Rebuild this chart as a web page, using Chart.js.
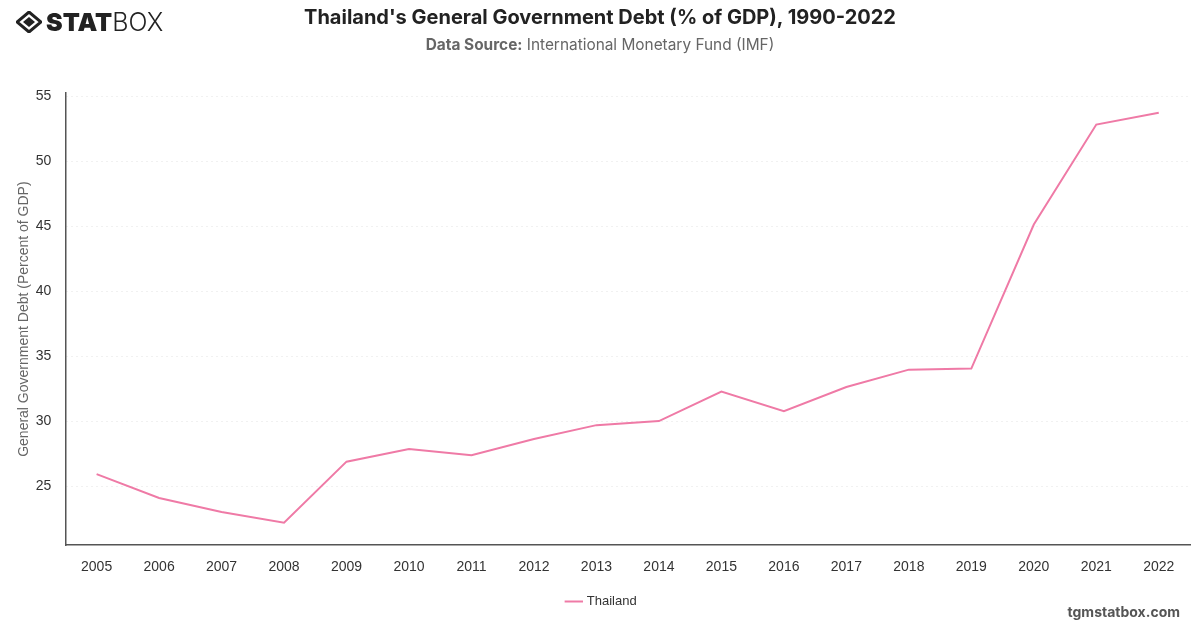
<!DOCTYPE html>
<html>
<head>
<meta charset="utf-8">
<script src="https://cdn.jsdelivr.net/npm/chart.js@4"></script>
<style>
  html, body { margin: 0; padding: 0; background: #fff; }
  body { width: 1200px; height: 628px; position: relative; overflow: hidden; font-family: Inter, "Noto Sans", "DejaVu Sans", sans-serif; }
  #wrap { position: absolute; left: 0; top: 0; width: 1200px; height: 628px; }
  #title { position: absolute; left: 0; width: 1200px; top: 5px; text-align: center; font-size: 20px; font-weight: 700; color: #222; }
  #sub { position: absolute; left: 0; width: 1200px; top: 35px; text-align: center; font-size: 15.4px; color: #666; }
  #sub b { font-weight: 700; }
  #logo { position: absolute; left: 16px; top: 8px; height: 28px; display: flex; align-items: center; }
  #logo .t1 { font-size: 25px; font-weight: 900; color: #222; margin-left: 4px; }
  #logo .t2 { font-size: 25px; font-weight: 300; color: #222; }
  #foot { position: absolute; right: 20px; top: 603px; font-size: 14px; font-weight: 700; color: #555; }
</style>
</head>
<body>
<div id="wrap"><canvas id="c" width="1200" height="628"></canvas></div>
<div id="logo">
  <svg width="26" height="22" viewBox="0 0 26 22">
    <path d="M13 1 L25 11 L13 21 L1 11 Z" fill="none" stroke="#222" stroke-width="3"/>
    <path d="M13 6 L19 11 L13 16 L7 11 Z" fill="#222"/>
  </svg>
  <span class="t1">STAT</span><span class="t2">BOX</span>
</div>
<div id="title">Thailand's General Government Debt (% of GDP), 1990-2022</div>
<div id="sub"><b>Data Source:</b> International Monetary Fund (IMF)</div>
<div id="foot">tgmstatbox.com</div>
<script>
const years = ["2005","2006","2007","2008","2009","2010","2011","2012","2013","2014","2015","2016","2017","2018","2019","2020","2021","2022"];
const thailandDebt = [25.92, 24.08, 23.0, 22.18, 26.88, 27.85, 27.38, 28.62, 29.69, 30.0, 32.27, 30.77, 32.62, 33.96, 34.04, 45.13, 52.82, 53.73];
const seriesName = "Thailand";
const yTickValues = [25, 30, 35, 40, 45, 50, 55];

const fam = '"Liberation Sans", Arial, sans-serif';

new Chart(document.getElementById('c'), {
  type: 'line',
  data: {
    labels: years,
    datasets: [{
      label: seriesName,
      data: thailandDebt,
      borderColor: '#ef7aa6',
      backgroundColor: '#ef7aa6',
      borderWidth: 2,
      pointRadius: 0,
      tension: 0,
      fill: false
    }]
  },
  options: {
    responsive: false,
    animation: false,
    layout: { padding: { top: 93, left: 14, right: 10, bottom: 10 } },
    plugins: {
      legend: {
        position: 'bottom',
        labels: { usePointStyle: true, pointStyle: 'line', boxWidth: 16, color: '#333', font: { size: 13, family: fam }, padding: 5 }
      },
      tooltip: { enabled: false }
    },
    scales: {
      x: {
        offset: true,
        grid: { display: false, drawTicks: false },
        border: { display: true, color: '#555', width: 1.5 },
        ticks: { color: '#333', font: { size: 14, family: fam }, padding: 14, maxRotation: 0 }
      },
      y: {
        min: 20.45,
        max: 55.25,
        afterBuildTicks: (axis) => { axis.ticks = yTickValues.map(v => ({ value: v })); },
        grid: { color: '#e2e2e2', drawTicks: false, lineWidth: 1 },
        border: { display: true, color: '#555', width: 1.5, dash: [1, 4] },
        ticks: { color: '#333', font: { size: 14, family: fam }, padding: 14 },
        title: { display: true, text: 'General Government Debt (Percent of GDP)', color: '#666', font: { size: 14, family: fam }, padding: { top: 2, bottom: -11 } }
      }
    }
  }
});
</script>
</body>
</html>
